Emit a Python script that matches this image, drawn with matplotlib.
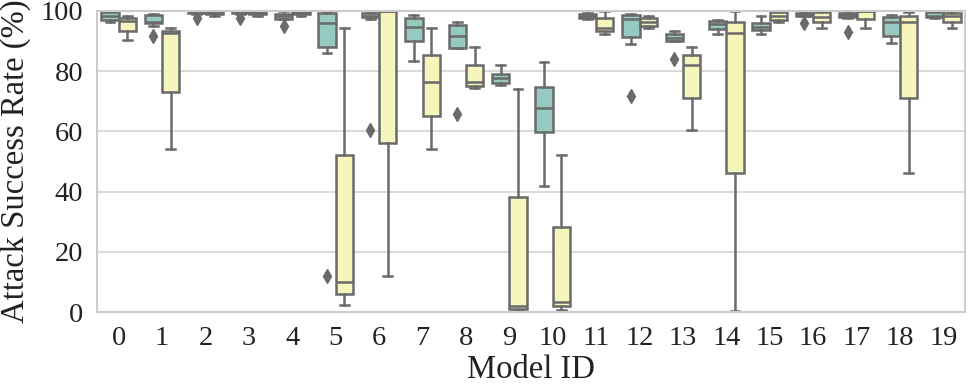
import matplotlib
matplotlib.use("Agg")
import matplotlib.pyplot as plt

model_ids = [str(i) for i in range(20)]

# Teal series (first hue)
teal_whislo = [96.2, 95.1, 99.0, 99.0, 97.3, 86.0, 97.5, 83.4, 87.6, 75.3, 41.8, 97.3, 89.2, 89.9, 92.3, 92.2, 98.2, 97.8, 89.3, 97.6]
teal_q1     = [97.0, 95.9, 99.2, 99.2, 97.3, 87.9, 97.9, 90.0, 87.6, 76.2, 59.9, 97.7, 91.2, 89.9, 94.0, 93.7, 98.4, 98.1, 91.8, 97.9]
teal_med    = [98.2, 96.5, 99.6, 99.6, 98.2, 96.0, 98.5, 94.8, 91.6, 77.9, 67.9, 98.2, 97.3, 91.0, 95.7, 94.8, 98.9, 98.7, 96.4, 98.4]
teal_q3     = [99.8, 98.7, 100.0, 100.0, 99.0, 99.3, 99.3, 97.7, 95.3, 79.0, 74.9, 99.0, 98.7, 92.3, 96.6, 95.9, 99.3, 99.3, 97.9, 99.6]
teal_whishi = [100.0, 99.0, 100.0, 100.0, 100.0, 99.6, 100.0, 98.8, 96.2, 82.2, 83.2, 99.2, 99.1, 93.3, 97.1, 98.4, 100.0, 100.0, 98.7, 100.0]
teal_fliers = [[], [91.8], [97.8], [97.8], [95.1], [11.8], [60.3], [], [65.7], [], [], [], [71.8], [84.2], [], [], [96.0], [92.9], [], []]

# Yellow series (second hue)
yel_whislo = [90.3, 54.3, 98.2, 98.2, 98.2, 2.2, 12.1, 54.3, 74.3, 0.5, 0.7, 92.4, 94.3, 60.3, 0.3, 96.4, 94.3, 94.3, 46.2, 94.3]
yel_q1     = [93.2, 73.2, 99.0, 99.0, 99.0, 6.0, 56.2, 65.1, 75.1, 1.0, 2.1, 93.2, 95.1, 71.2, 46.2, 97.1, 96.2, 97.3, 71.2, 96.4]
yel_med    = [96.8, 92.7, 99.5, 99.5, 99.5, 10.1, 100.0, 76.4, 76.4, 2.0, 3.4, 94.2, 96.4, 82.1, 92.6, 98.2, 98.1, 100.0, 96.4, 98.2]
yel_q3     = [97.6, 93.4, 99.8, 99.8, 99.8, 52.3, 100.0, 85.4, 82.2, 38.2, 28.2, 97.6, 97.6, 85.3, 96.4, 99.6, 99.6, 100.0, 98.4, 99.3]
yel_whishi = [98.4, 94.3, 100.0, 100.0, 100.0, 94.2, 100.0, 94.2, 88.2, 74.2, 52.2, 99.9, 98.4, 88.2, 100.0, 100.0, 100.0, 100.0, 99.8, 100.0]
yel_fliers = [[] for _ in range(20)]

teal_color = "#96cac1"
yel_color = "#f6f6bc"
line_color = "#6a6a6a"

plt.rcParams['font.family'] = ['Liberation Serif', 'DejaVu Serif']

fig = plt.figure(figsize=(9.68, 3.85), dpi=100)
ax = fig.add_axes([97/968, 1-312/385, (965-97)/968, (312-11)/385])

def stats(lo, q1, med, q3, hi, fl):
    return [dict(whislo=a, q1=b, med=c, q3=d, whishi=e, fliers=f)
            for a, b, c, d, e, f in zip(lo, q1, med, q3, hi, fl)]

lw = 1.8
for st, off, col in [
    (stats(teal_whislo, teal_q1, teal_med, teal_q3, teal_whishi, teal_fliers), -0.2, teal_color),
    (stats(yel_whislo, yel_q1, yel_med, yel_q3, yel_whishi, yel_fliers), 0.2, yel_color),
]:
    pos = [i + off for i in range(len(model_ids))]
    ax.bxp(st, positions=pos, widths=0.4, patch_artist=True, showfliers=True,
           boxprops=dict(facecolor=col, edgecolor=line_color, linewidth=lw),
           medianprops=dict(color=line_color, linewidth=lw),
           whiskerprops=dict(color=line_color, linewidth=lw),
           capprops=dict(color=line_color, linewidth=lw),
           flierprops=dict(marker='d', markerfacecolor=line_color, markeredgecolor=line_color,
                           markersize=7, linestyle='none'),
           capwidths=0.2, manage_ticks=False, zorder=2)

ax.set_xlim(-0.5, len(model_ids) - 0.5)
ax.set_ylim(0, 100)
ax.set_xticks(range(len(model_ids)))
ax.set_xticklabels(model_ids)
ax.set_yticks([0, 20, 40, 60, 80, 100])
ax.tick_params(axis='both', labelsize=20.5, length=0, pad=10, colors='#222222')
ax.yaxis.grid(True, color='#d3d3d3', linewidth=1.2, zorder=0)
ax.xaxis.grid(False)
ax.set_axisbelow(True)
for s in ax.spines.values():
    s.set_color('#cccccc')
    s.set_linewidth(1.5)
ax.set_xlabel("Model ID", fontsize=23.5, color='#222222')
ax.set_ylabel("Attack Success Rate (%)", fontsize=23.5, color='#222222')
ax.yaxis.set_label_coords((31 - 97) / 868, 0.5)
ax.xaxis.set_label_coords(0.5, (312 - 355) / 301)

fig.savefig("out.png", dpi=100)
